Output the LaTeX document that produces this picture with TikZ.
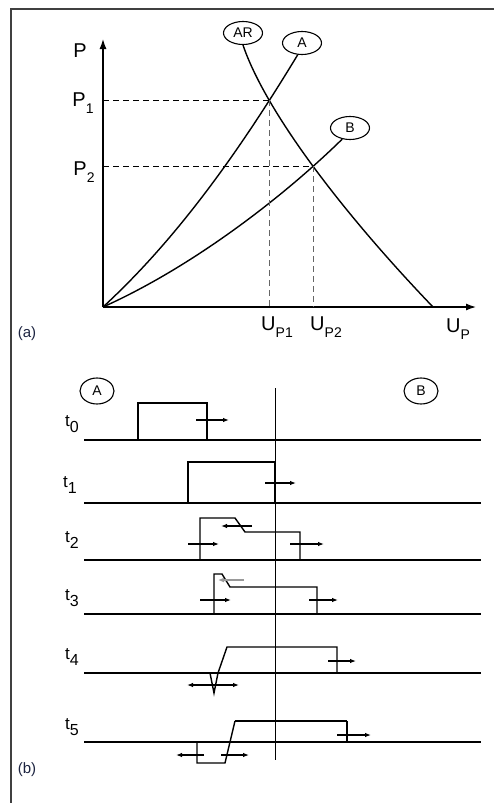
\documentclass[tikz,border=0pt]{standalone}
\usepackage{fontspec}
\setmainfont{Liberation Sans}
\usetikzlibrary{arrows.meta,shapes.geometric,intersections}
\newcommand\lowsub[2][14]{\raisebox{-0.32em}{\fontsize{#1}{#1}\selectfont #2}}
\definecolor{panelink}{HTML}{1C2340}
\begin{document}
\begin{tikzpicture}[x=1pt,y=-1pt,
  frame/.style={line width=2pt, black!75},
  axis/.style={line width=2.6pt, -{Latex[length=11pt,width=7pt]}},
  curve/.style={line width=1.4pt},
  guide/.style={line width=0.9pt, dash pattern=on 6pt off 4pt},
  guidev/.style={line width=0.9pt, black!60, dash pattern=on 6pt off 4pt},
  tag/.style={draw, ellipse, line width=1.1pt, inner sep=0pt, minimum width=39pt, minimum height=23pt, font=\fontsize{14}{14}\selectfont},
  tagb/.style={tag, minimum width=34pt, minimum height=26pt},
  lbl/.style={font=\fontsize{20}{20}\selectfont, inner sep=0pt},
  tlbl/.style={font=\fontsize{17}{17}\selectfont, inner sep=0pt},
  plbl/.style={font=\fontsize{15}{15}\selectfont, inner sep=0pt, text=panelink},
  base/.style={line width=2.6pt},
  pulse/.style={line width=1.4pt},
  mv/.style={line width=1.1pt, -{Latex[length=6pt,width=4.5pt]}},
  mvgray/.style={line width=2.6pt, black!40, -{Latex[length=6pt,width=5pt]}},
  centre/.style={line width=1pt}
]
\useasboundingbox (0,0) rectangle (494,803);
% frame
\draw[frame] (11,803) -- (11,9) -- (494,9);

% ---------------- panel (a) ----------------
\coordinate (O) at (103,307);
\coordinate (Ptop) at (103,38);
\coordinate (Uend) at (477,307);
\draw[axis] (O) -- (Ptop);
\draw[axis] (O) -- (Uend);

\node[tag] (AR) at (243,33) {AR};
\node[tag] (Atag) at (302,43) {A};
\node[tag] (Btag) at (350,128) {B};

\coordinate (ARend) at (433,307);
\draw[curve, name path=ARc] (AR.south) .. controls (265,110) and (340,210) .. (ARend);
\draw[curve, name path=Ac] (O) .. controls (178,238) and (240,150) .. (Atag.250);
\draw[curve, name path=Bc] (O) .. controls (190,268) and (280,200) .. (Btag.235);

\path[name intersections={of=Ac and ARc, by=I1}];
\path[name intersections={of=Bc and ARc, by=I2}];

\draw[guide] (O |- I1) -- (I1);
\draw[guide, line width=1.3pt] (O |- I2) -- (I2);
\draw[guidev] (I1) -- (I1 |- O);
\draw[guidev] (I2) -- (I2 |- O);

\node[lbl] (Plab) at (80,51) {P};
\node[lbl] (P1lab) at (83,103) {P\lowsub{1}};
\node[lbl] (P2lab) at (84,172) {P\lowsub{2}};
\node[lbl] (U1lab) at (277,327) {U\lowsub{P1}};
\node[lbl] (U2lab) at (326,327) {U\lowsub{P2}};
\node[lbl] (Ulab) at (458,329) {U\lowsub{P}};
\node[plbl] (alab) at (27,334) {(a)};

% ---------------- panel (b) ----------------
\node[tagb] (Ab) at (97,391) {A};
\node[tagb] (Bb) at (421,391) {B};

\coordinate (Ctop) at (275,388);
\coordinate (Cbot) at (275,760);
\draw[centre] (Ctop) -- (Cbot);

% baselines
\foreach \n/\y in {0/440,1/503,2/560,3/614,4/673,5/742}{
  \coordinate (L\n) at (84,\y);
  \coordinate (R\n) at (481,\y);
  \draw[base] (L\n) -- (R\n);
}

% time labels
\node[tlbl] (t0) at (72,424) {t\lowsub[16]{0}};
\node[tlbl] (t1) at (70,485) {t\lowsub[16]{1}};
\node[tlbl] (t2) at (72,540) {t\lowsub[16]{2}};
\node[tlbl] (t3) at (72,598) {t\lowsub[16]{3}};
\node[tlbl] (t4) at (72,657) {t\lowsub[16]{4}};
\node[tlbl] (t5) at (72,727) {t\lowsub[16]{5}};

% t0
\draw[pulse] (138,440) -- (138,403) -- (207,403) -- (207,440);
\coordinate (a0s) at (196,420); \coordinate (a0e) at (229,420);
\draw[mv] (a0s) -- (a0e);

% t1
\draw[pulse] (188,503) -- (188,462) -- (275,462) -- (275,503);
\coordinate (a1s) at (265,483); \coordinate (a1e) at (296,483);
\draw[mv] (a1s) -- (a1e);

% t2
\draw[pulse] (200,560) -- (200,518) -- (235,518) -- (245,532) -- (300,532) -- (300,560);
\coordinate (a2s) at (188,544); \coordinate (a2e) at (219,544);
\draw[mv] (a2s) -- (a2e);
\coordinate (a2bs) at (290,544); \coordinate (a2be) at (324,544);
\draw[mv] (a2bs) -- (a2be);
\coordinate (a2cs) at (252,526); \coordinate (a2ce) at (221,526);
\draw[mv] (a2cs) -- (a2ce);

% t3
\draw[pulse] (214,614) -- (214,574) -- (222,574) -- (230,587) -- (317,587) -- (317,614);
\coordinate (a3s) at (200,600); \coordinate (a3e) at (231,600);
\draw[mv] (a3s) -- (a3e);
\coordinate (a3bs) at (309,600); \coordinate (a3be) at (338,600);
\draw[mv] (a3bs) -- (a3be);
\coordinate (a3cs) at (244,580); \coordinate (a3ce) at (218,580);
\draw[mvgray] (a3cs) -- (a3ce);

% t4
\draw[pulse] (210,673) -- (214,693) -- (218,673) -- (227,647) -- (337,647) -- (337,673);
\coordinate (a4s) at (328,661); \coordinate (a4e) at (356,661);
\draw[mv] (a4s) -- (a4e);
\coordinate (a4m) at (214,685);
\coordinate (a4l) at (187,685); \coordinate (a4r) at (239,685);
\draw[mv] (a4m) -- (a4l);
\draw[mv] (a4m) -- (a4r);

% t5
\draw[pulse] (197,742) -- (197,763) -- (225,763) -- (235,721);
\draw[pulse, line width=2.2pt] (235,721) -- (347,721);
\draw[pulse] (347,721) -- (347,742);
\coordinate (a5s) at (337,735); \coordinate (a5e) at (371,735);
\draw[mv] (a5s) -- (a5e);
\coordinate (a5ls) at (204,755); \coordinate (a5le) at (176,755);
\draw[mv] (a5ls) -- (a5le);
\coordinate (a5rs) at (221,755); \coordinate (a5re) at (249,755);
\draw[mv] (a5rs) -- (a5re);

\node[plbl] (blab) at (27,770) {(b)};
\end{tikzpicture}
\end{document}
